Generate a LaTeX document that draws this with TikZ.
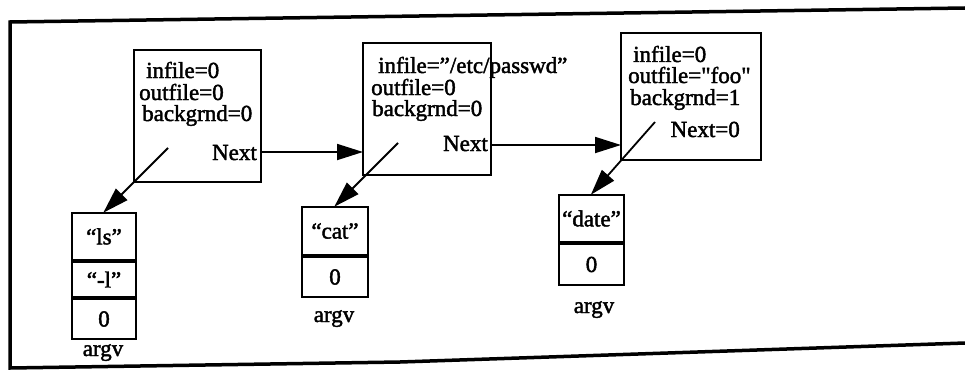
\documentclass[tikz,border=0pt]{standalone}
\usepackage{fontspec}
\setmainfont{Liberation Serif}
% slightly heavier serif face for all labels
\font\heavyfont="Liberation Serif:embolden=1.8" at 23pt
\usetikzlibrary{arrows.meta}
\begin{document}
\begin{tikzpicture}[x=1pt,y=-1pt,
  every node/.style={font=\heavyfont},
  rec/.style={draw,line width=2pt,rectangle,inner sep=0pt},
  lbl/.style={inner sep=0pt,anchor=base west},
  lblr/.style={inner sep=0pt,anchor=base east},
  cell/.style={draw,line width=2pt,rectangle,inner sep=0pt,minimum width=64pt},
  ptr/.style={line width=1.8pt,-{Triangle[length=26pt,width=16pt]},shorten >=-1pt}]
\useasboundingbox (0,0) rectangle (965,369);

% open frame (left, top, bottom)
\draw[line width=3.5pt] (965,8) -- (10,22) -- (10,368) -- (400,362) -- (965,343);

% command structures
\node[rec,minimum width=127pt,minimum height=132pt] (box1) at (197,116) {};
\node[rec,minimum width=128pt,minimum height=132pt] (box2) at (427,109) {};
\node[rec,minimum width=140pt,minimum height=127pt] (box3) at (691,96.5) {};

\node[lbl] (in1)  at (146,78)  {infile=0};
\node[lbl] (out1) at (139,100) {outfile=0};
\node[lbl] (bg1)  at (142,121) {backgrnd=0};
\node[lblr] (nx1) at (257,160) {Next};

\node[lbl] (in2)  at (378,73)  {infile=”/etc/passwd”};
\node[lbl] (out2) at (371,95)  {outfile=0};
\node[lbl] (bg2)  at (372,116) {backgrnd=0};
\node[lblr] (nx2) at (488,151) {Next};

\node[lbl] (in3)  at (633,62)  {infile=0};
\node[lbl] (out3) at (628,83)  {outfile="foo"};
\node[lbl] (bg3)  at (630,105) {backgrnd=1};
\node[lblr] (nx3) at (740,137) {Next=0};

% argv arrays
\node[cell,minimum height=47pt] (a1c1) at (104,236.5) {“ls”};
\node[cell,minimum height=35pt,anchor=north] (a1c2) at (a1c1.south) {“-l”};
\node[cell,minimum height=40pt,anchor=north] (a1c3) at (a1c2.south) {0};
\node[inner sep=0pt,anchor=base] (av1) at (103,356) {argv};

\node[cell,minimum width=66pt,minimum height=48pt] (a2c1) at (335,231) {“cat”};
\node[cell,minimum width=66pt,minimum height=40pt,anchor=north] (a2c2) at (a2c1.south) {0};
\node[inner sep=0pt,anchor=base] (av2) at (334,322) {argv};

\node[cell,minimum width=65pt,minimum height=47pt] (a3c1) at (591.5,218.5) {“date”};
\node[cell,minimum width=65pt,minimum height=41pt,anchor=north] (a3c2) at (a3c1.south) {0};
\node[inner sep=0pt,anchor=base] (av3) at (594,313) {argv};

% argv pointers start inside each structure
\coordinate (p1) at (168,148);
\coordinate (p2) at (398,143);
\coordinate (p3) at (655,122);
\draw[ptr] (p1) -- (a1c1.north);
\draw[ptr] (p2) -- (a2c1.north);
\draw[ptr] (p3) -- (a3c1.north);

% Next links
\draw[ptr] (box1.east |- 0,152) -- (box2.west |- 0,152);
\draw[ptr] (box2.east |- 0,145) -- (box3.west |- 0,145);
\end{tikzpicture}
\end{document}
